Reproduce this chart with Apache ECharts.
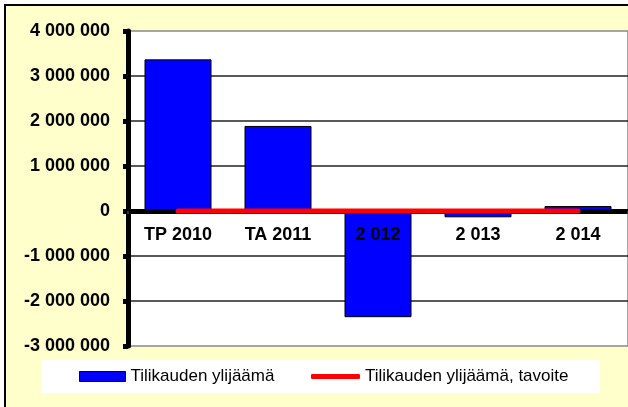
<!DOCTYPE html>
<html>
<head>
<meta charset="UTF-8">
<title></title>
<style type="text/css">
	* {margin: 0; padding: 0;}
	body {background: #fff;}
	#chart {width: 628px; height: 407px;}
</style>
<script src="https://cdn.jsdelivr.net/npm/echarts@6/dist/echarts.min.js"></script>
</head>
<body>
<div id="chart"></div>
<script type="text/javascript">
	// data
	var categories = ['TP 2010', 'TA 2011', '2 012', '2 013', '2 014'];
	var ylijaama = [3370000, 1890000, -2360000, -140000, 110000];
	var tavoite = [0, 0, 0, 0, 0];
	var seriesNames = ['Tilikauden ylijäämä', 'Tilikauden ylijäämä, tavoite'];

	var font = 'Arial, "Liberation Sans", sans-serif';

	// 4000000 -> "4 000 000"
	function fmt(v) {
		var s = String(Math.abs(v)).replace(/\B(?=(\d{3})+(?!\d))/g, ' ');
		return (v < 0 ? '-' : '') + s;
	}

	var chart = echarts.init(document.getElementById('chart'));
	var option = {
		animation: false,
		backgroundColor: '#fff',
		graphic: [
			{
				type: 'rect', z: -10, silent: true,
				shape: {x: 5, y: 5, width: 700, height: 500},
				style: {fill: '#FFFFCC', stroke: '#000', lineWidth: 2}
			},
			{
				type: 'rect', z: -5, silent: true,
				shape: {x: 41, y: 360, width: 559, height: 33},
				style: {fill: '#fff'}
			}
		],
		grid: {
			left: 128, top: 31, right: 0, bottom: 61,
			show: true,
			backgroundColor: '#fff',
			borderColor: '#888',
			borderWidth: 1.5
		},
		legend: [
			{
				left: 79, top: 368, padding: 0,
				data: [{name: seriesNames[0], icon: 'rect'}],
				itemWidth: 46, itemHeight: 10,
				itemStyle: {borderColor: '#000', borderWidth: 1},
				textStyle: {fontFamily: font, fontSize: 17, color: '#000'}
			},
			{
				left: 311, top: 368, padding: 0,
				data: [{name: seriesNames[1], icon: 'roundRect'}],
				itemWidth: 49, itemHeight: 5,
				itemStyle: {color: '#FF0000'},
				textStyle: {fontFamily: font, fontSize: 17, color: '#000'}
			}
		],
		xAxis: {
			type: 'category',
			data: categories,
			position: 'bottom',
			offset: -135,   // puts the axis on the zero line (3 steps of 45 px)
			z: 3,           // labels drawn over the bars, like "2 012"
			axisLine: {onZero: false, lineStyle: {color: '#000', width: 5}},
			axisTick: {show: true, length: 3, lineStyle: {color: '#333', width: 2}},
			axisLabel: {
				margin: 15,
				fontFamily: font, fontSize: 18, fontWeight: 'bold', color: '#000'
			},
			splitLine: {show: false}
		},
		yAxis: {
			type: 'value',
			min: -3000000, max: 4000000, interval: 1000000,
			axisLine: {show: true, lineStyle: {color: '#000', width: 5}},
			axisTick: {show: true, length: 5, lineStyle: {color: '#000', width: 5}},
			axisLabel: {
				margin: 18,
				formatter: fmt,
				fontFamily: font, fontSize: 18, fontWeight: 'bold', color: '#000'
			},
			splitLine: {
				show: true, showMinLine: false, showMaxLine: false,
				lineStyle: {color: '#222', width: 1.5}
			}
		},
		series: [
			{
				name: seriesNames[0],
				type: 'bar',
				data: ylijaama,
				barWidth: 67,
				itemStyle: {color: '#0000FF', borderColor: '#000', borderWidth: 1}
			},
			{
				name: seriesNames[1],
				type: 'line',
				data: tavoite,
				symbol: 'none',
				z: 5,
				lineStyle: {color: '#FF0000', width: 5, cap: 'round'},
				itemStyle: {color: '#FF0000'}
			}
		]
	};
	chart.setOption(option);
</script>
</body>
</html>
